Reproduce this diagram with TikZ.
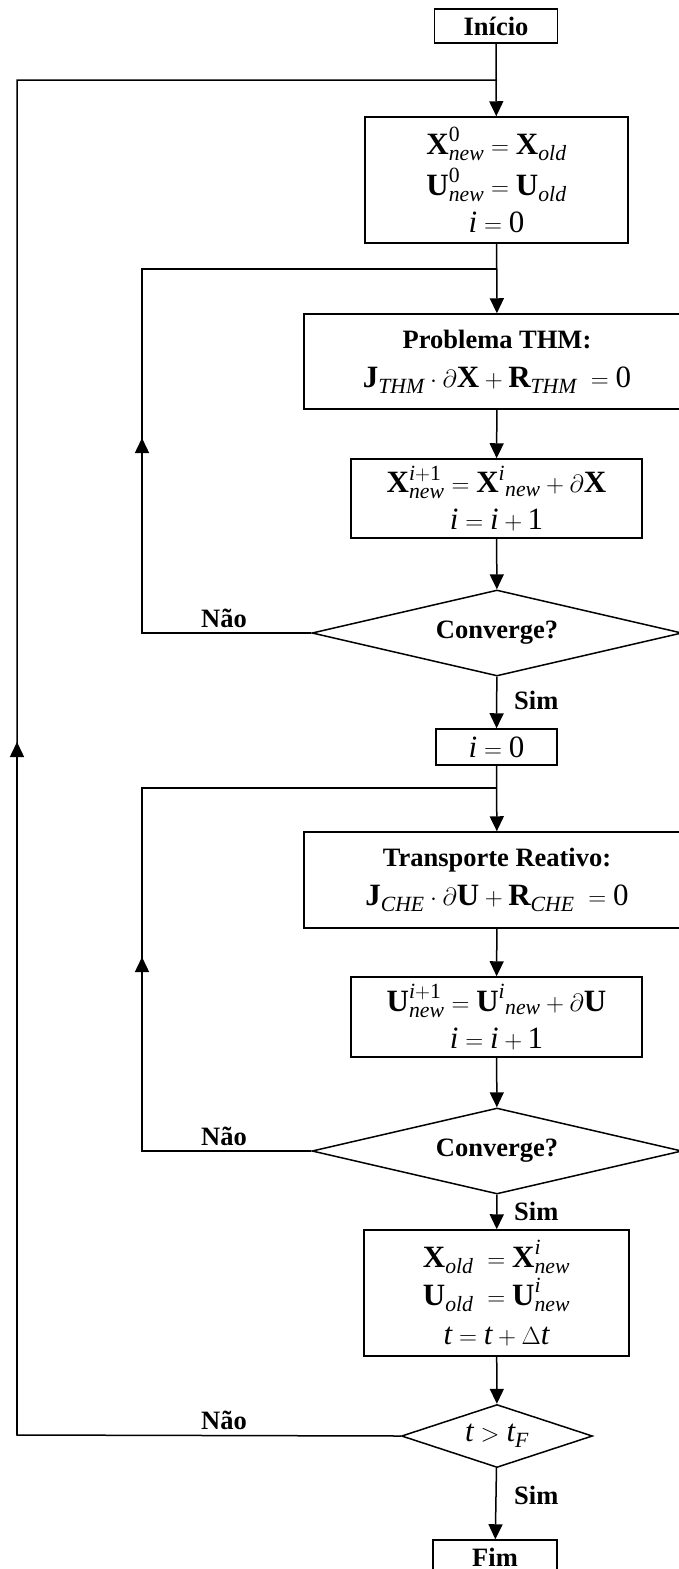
\documentclass[tikz,border=0pt]{standalone}
\usepackage{amsmath}
\usepackage{fontspec}
\setmainfont{Liberation Serif}
\usetikzlibrary{arrows.meta,shapes.geometric}

\newcommand\vX{\textbf{X}}
\newcommand\vU{\textbf{U}}
\newcommand\vJ{\textbf{J}}
\newcommand\vR{\textbf{R}}
\newcommand\ti[1]{\textit{#1}}
\newcommand\tr[1]{\text{#1}}
% superscript raised a little higher than the default
\newcommand\hi[1]{#1\rule[-2pt]{0pt}{2pt}}

\tikzset{
  line/.style={line width=1.5pt},
  flow/.style={line, -{Triangle[length=15pt,width=14pt]}},
  box/.style={draw, line width=1.5pt, inner sep=0pt, align=center,
              font=\fontsize{31}{36}\selectfont},
  labelbox/.style={box, font=\fontsize{26.5}{30}\selectfont\bfseries},
  decision/.style={draw, line width=1.5pt, shape=diamond, inner sep=0pt,
              font=\fontsize{26.5}{30}\selectfont\bfseries},
  tag/.style={font=\fontsize{26.5}{30}\selectfont\bfseries, inner sep=0pt}
}

\begin{document}
\begin{tikzpicture}[x=1pt,y=-1pt]
\useasboundingbox (0,0) rectangle (679,1569);
\clip (0,0) rectangle (679,1569);

% process blocks
\node[labelbox, minimum width=123pt, minimum height=34pt] (start) at (496,26) {Início};

\node[box, minimum width=263pt, minimum height=126pt] (init) at (496.5,180)
  {$\vX^{\hi{\tr{0}}}_{\ti{new}} = \vX_{\ti{old}}$\\[5pt]
   $\vU^{\hi{\tr{0}}}_{\ti{new}} = \vU_{\ti{old}}$\\[1pt]
   $\ti{i} = \tr{0}$};

\node[box, minimum width=386pt, minimum height=95pt] (thm) at (497,361.5)
  {\fontsize{26.5}{30}\selectfont\bfseries Problema THM:\\[3pt]
   $\vJ_{\ti{THM}} \cdot \partial\vX + \vR_{\ti{THM}} \;= \tr{0}$};

\node[box, minimum width=291pt, minimum height=79pt] (updX) at (496.5,498.5)
  {$\vX^{\hi{\ti{i}+\tr{1}}}_{\ti{new}} = \vX^{\ti{i}}{}_{\ti{new}} + \partial\vX$\\[1pt]
   $\ti{i} = \ti{i} + \tr{1}$};

\node[decision, shape aspect=4.3, minimum width=370pt, minimum height=86pt] (convA) at (497,633) {Converge?};

\node[box, minimum width=121pt, minimum height=36pt] (reset) at (496.5,747) {$\ti{i} = \tr{0}$};

\node[box, minimum width=386pt, minimum height=96pt] (che) at (497,880)
  {\fontsize{26.5}{30}\selectfont\bfseries Transporte Reativo:\\[3pt]
   $\vJ_{\ti{CHE}} \cdot \partial\vU + \vR_{\ti{CHE}} \;= \tr{0}$};

\node[box, minimum width=291pt, minimum height=80pt] (updU) at (496.5,1017)
  {$\vU^{\hi{\ti{i}+\tr{1}}}_{\ti{new}} = \vU^{\ti{i}}{}_{\ti{new}} + \partial\vU$\\[1pt]
   $\ti{i} = \ti{i} + \tr{1}$};

\node[decision, shape aspect=4.3, minimum width=370pt, minimum height=86pt] (convB) at (497,1151) {Converge?};

\node[box, minimum width=265pt, minimum height=126pt] (advance) at (496.5,1293)
  {$\vX_{\ti{old}} \;= \vX^{\hi{\ti{i}}}_{\ti{new}}$\\[2pt]
   $\vU_{\ti{old}} \;= \vU^{\hi{\ti{i}}}_{\ti{new}}$\\[3pt]
   $\ti{t} = \ti{t} + \Delta\ti{t}$};

\node[decision, shape aspect=3, minimum width=191pt, minimum height=63pt,
      font=\fontsize{31}{36}\selectfont] (tend) at (497,1436) {$\ti{t} > \ti{t}_{\ti{F}}$};

\node[labelbox, minimum width=124pt, minimum height=34pt] (stop) at (495,1557) {Fim};

% loop junctions and corners
\coordinate (jOuter) at (497,80);
\coordinate (jA) at (497,269);
\coordinate (jB) at (497,788);
\coordinate (cOuterTop) at (17,80);
\coordinate (cOuterBot) at (17,1435);
\coordinate (mOuter) at (17,742);
\coordinate (cATop) at (142,269);
\coordinate (cABot) at (142,633);
\coordinate (mA) at (142,438);
\coordinate (cBTop) at (142,788);
\coordinate (cBBot) at (142,1151);
\coordinate (mB) at (142,957);

% main flow
\draw[flow] (start) -- (init);
\draw[flow] (init) -- (thm);
\draw[flow] (thm) -- (updX);
\draw[flow] (updX) -- (convA);
\draw[flow] (convA) -- (reset);
\draw[flow] (reset) -- (che);
\draw[flow] (che) -- (updU);
\draw[flow] (updU) -- (convB);
\draw[flow] (convB) -- (advance);
\draw[flow] (advance) -- (tend);
\draw[flow] (tend) -- (stop);

% feedback loops
\draw[line] (convA.west) -- (cABot) -- (cATop) -- (jA);
\draw[flow] (cABot) -- (mA);
\draw[line] (convB.west) -- (cBBot) -- (cBTop) -- (jB);
\draw[flow] (cBBot) -- (mB);
\draw[line] (tend.west) -- (cOuterBot) -- (cOuterTop) -- (jOuter);
\draw[flow] (cOuterBot) -- (mOuter);

% branch labels
\node[tag, anchor=base] (noA) at (224,627) {Não};
\node[tag, anchor=base] (noB) at (224,1145) {Não};
\node[tag, anchor=base] (noC) at (224,1429) {Não};
\node[tag, anchor=west] (yesA) at (514,700) {Sim};
\node[tag, anchor=west] (yesB) at (514,1211) {Sim};
\node[tag, anchor=west] (yesC) at (514,1495) {Sim};
\end{tikzpicture}
\end{document}
